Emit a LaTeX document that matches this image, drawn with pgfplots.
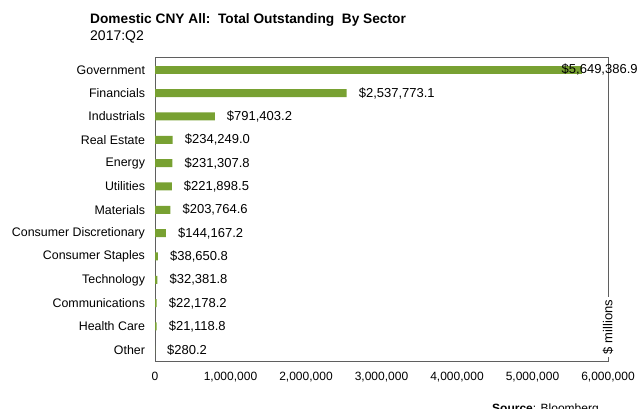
\documentclass[border=0pt]{standalone}
\usepackage{fontspec}
\setmainfont{Liberation Sans}
\usepackage{pgfplots}
\pgfplotsset{compat=1.18}

\definecolor{barGreen}{RGB}{120,161,50}
\definecolor{frameGray}{RGB}{95,95,95}

\begin{document}
\begin{tikzpicture}
\useasboundingbox (0pt,0pt) rectangle (637pt,-409pt);

% title block
\node[anchor=base west, inner sep=0pt, font=\fontsize{13.7}{16}\selectfont\bfseries]
  at (90pt,-24pt) {Domestic CNY All:\ \ Total Outstanding\ \ By Sector};
\node[anchor=base west, inner sep=0pt, font=\fontsize{14}{16}\selectfont]
  at (90pt,-41pt) {2017:Q2};

\begin{axis}[
    at={(155pt,-361pt)}, anchor=south west,
    scale only axis, width=453pt, height=304pt,
    xbar, bar width=8pt,
    xmin=0, xmax=6000000,
    ymin=-0.48, ymax=12.55,
    ytick={0,...,12},
    yticklabels={Other,Health Care,Communications,Technology,Consumer Staples,Consumer Discretionary,Materials,Utilities,Energy,Real Estate,Industrials,Financials,Government},
    xtick={0,1000000,2000000,3000000,4000000,5000000,6000000},
    scaled x ticks=false,
    xticklabel={\pgfmathprintnumber[fixed,precision=0,1000 sep={,},assume math mode=true]{\tick}},
    major tick length=0pt,
    axis line style={frameGray},
    x tick label style={yshift=-7.7pt, font=\fontsize{12}{14}\selectfont},
    y tick label style={xshift=-6.5pt, font=\fontsize{12.4}{14}\selectfont},
    clip=false,
    point meta=explicit symbolic,
    nodes near coords,
    every node near coord/.append style={anchor=west, inner sep=0pt, xshift=12pt,
      font=\fontsize{13}{15}\selectfont, text=black},
]
\addplot[fill=barGreen, draw=none, bar shift=0pt] coordinates {
    (2537773.1,11) [\$2,537,773.1]
    (791403.2,10)  [\$791,403.2]
    (234249.0,9)   [\$234,249.0]
    (231307.8,8)   [\$231,307.8]
    (221898.5,7)   [\$221,898.5]
    (203764.6,6)   [\$203,764.6]
    (144167.2,5)   [\$144,167.2]
    (38650.8,4)    [\$38,650.8]
    (32381.8,3)    [\$32,381.8]
    (22178.2,2)    [\$22,178.2]
    (21118.8,1)    [\$21,118.8]
    (280.2,0)      [\$280.2]
};
\addplot[fill=barGreen, draw=none, bar shift=0pt,
    every node near coord/.append style={xshift=-32pt}] coordinates {
    (5649386.9,12) [\$5,649,386.9]
};
\end{axis}

% unit label over the right border
\node[rotate=90, fill=white, inner sep=3pt, font=\fontsize{13}{15}\selectfont]
  at (608pt,-327pt) {\$ millions};

% source line, cut at the bottom edge as in the reference
\node[anchor=base west, inner sep=0pt, font=\fontsize{12}{14}\selectfont]
  at (492pt,-412pt) {\textbf{Source}: Bloomberg};
\end{tikzpicture}
\end{document}
